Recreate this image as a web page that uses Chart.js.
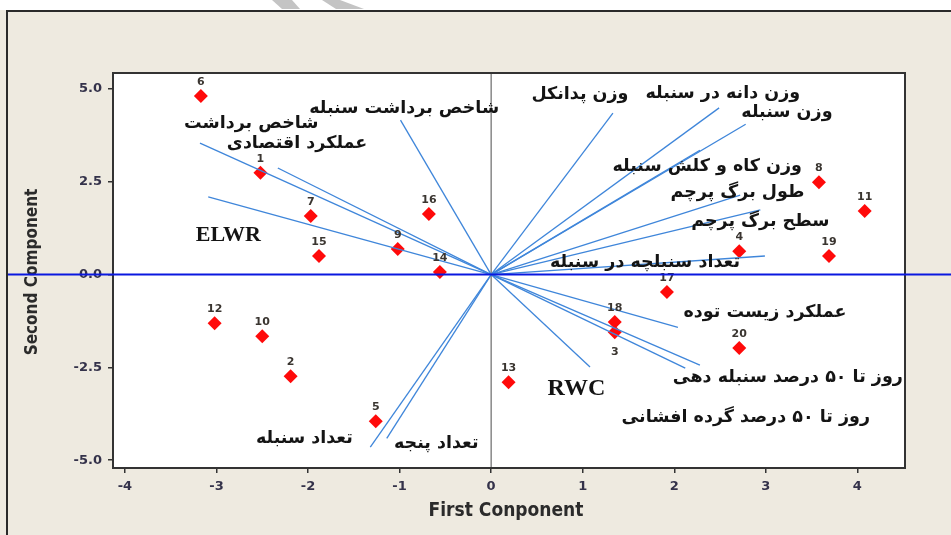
<!DOCTYPE html>
<html>
<head>
<meta charset="utf-8">
<script src="https://cdn.jsdelivr.net/npm/chart.js"></script>
<style>
  html, body { margin: 0; padding: 0; background: #eeeae0; }
  canvas { display: block; }
</style>
</head>
<body>
<canvas id="myChart" width="951" height="535"></canvas>
<script>
// genotype scores (first and second component)
const obsIds = ['6', '1', '7', '15', '9', '16', '14', '12', '10', '2', '5', '13', '18', '3', '17', '20', '4', '8', '11', '19'];
const obsX = [-3.17, -2.52, -1.97, -1.88, -1.02, -0.68, -0.56, -3.02, -2.50, -2.19, -1.26, 0.19, 1.35, 1.35, 1.92, 2.71, 2.71, 3.58, 4.08, 3.69];
const obsY = [4.81, 2.74, 1.58, 0.50, 0.69, 1.63, 0.07, -1.31, -1.66, -2.74, -3.95, -2.90, -1.28, -1.55, -0.47, -1.98, 0.63, 2.49, 1.71, 0.50];

// trait vectors (loadings)
const varNames = [
  'شاخص برداشت سنبله', 'شاخص برداشت', 'عملکرد اقتصادی', 'ELWR',
  'وزن پدانکل', 'وزن دانه در سنبله', 'وزن سنبله', 'وزن کاه و کلش سنبله',
  'طول برگ پرچم', 'سطح برگ پرچم', 'تعداد سنبلچه در سنبله',
  'عملکرد زیست توده', 'روز تا ۵۰ درصد سنبله دهی', 'روز تا ۵۰ درصد گرده افشانی', 'RWC',
  'تعداد سنبله', 'تعداد پنجه'
];
const varX = [-0.99, -3.18, -2.33, -3.09, 1.33, 2.49, 2.78, 2.28, 2.72, 2.94, 2.99, 2.04, 2.28, 2.12, 1.08, -1.32, -1.14];
const varY = [4.16, 3.54, 2.87, 2.09, 4.35, 4.49, 4.05, 3.35, 2.14, 1.74, 0.50, -1.42, -2.44, -2.52, -2.49, -4.65, -4.41];

const xTicks = [-4, -3, -2, -1, 0, 1, 2, 3, 4];
const yTicks = [-5, -2.5, 0, 2.5, 5];

// where the trait names sit (data units, text centre)
const nameAt = [
  [-0.95, 4.48], [-2.62, 4.08], [-2.12, 3.54], [-2.87, 1.06],
  [0.97, 4.84], [2.53, 4.89], [3.23, 4.38], [2.36, 2.90],
  [2.69, 2.22], [2.94, 1.42], [1.68, 0.34],
  [2.99, -1.01], [3.24, -2.76], [2.78, -3.84], [0.93, -3.08],
  [-2.04, -4.41], [-0.60, -4.54]
];

const datasets = varX.map(function(vx, i) {
  return {
    type: 'line',
    data: [{x: 0, y: 0}, {x: vx, y: varY[i]}],
    borderColor: '#3f86da',
    borderWidth: 1.3,
    pointRadius: 0,
    fill: false
  };
});
datasets.push({
  type: 'scatter',
  data: obsX.map(function(x, i) { return {x: x, y: obsY[i]}; }),
  pointStyle: 'rectRot',
  pointRadius: 7,
  backgroundColor: '#ff0a0a',
  borderWidth: 0
});

const decor = {
  id: 'decor',
  beforeDraw: function(chart) {
    const ctx = chart.ctx, a = chart.chartArea;
    ctx.save();
    ctx.fillStyle = '#eeeae0';
    ctx.fillRect(0, 0, chart.width, chart.height);
    ctx.fillStyle = '#ffffff';
    ctx.fillRect(0, 0, chart.width, 10);
    // faint watermark bits at the top
    ctx.fillStyle = '#c4c4c4';
    ctx.beginPath();
    ctx.moveTo(272, 0); ctx.lineTo(292, 0); ctx.lineTo(300, 9); ctx.lineTo(282, 9); ctx.closePath(); ctx.fill();
    ctx.beginPath();
    ctx.moveTo(322, 0); ctx.lineTo(340, 0); ctx.lineTo(364, 9); ctx.lineTo(336, 9); ctx.closePath(); ctx.fill();
    // frame
    ctx.strokeStyle = '#2a2a2a';
    ctx.lineWidth = 2;
    ctx.beginPath();
    ctx.moveTo(7, 535); ctx.lineTo(7, 11); ctx.lineTo(951, 11);
    ctx.stroke();
    ctx.fillStyle = '#ffffff';
    ctx.fillRect(a.left, a.top, a.right - a.left, a.bottom - a.top);
    ctx.restore();
  },
  beforeDatasetsDraw: function(chart) {
    const ctx = chart.ctx, a = chart.chartArea;
    const x0 = chart.scales.x.getPixelForValue(0);
    ctx.save();
    ctx.strokeStyle = '#6a6a6a';
    ctx.lineWidth = 1.2;
    ctx.beginPath();
    ctx.moveTo(x0, a.top); ctx.lineTo(x0, a.bottom);
    ctx.stroke();
    ctx.restore();
  },
  afterDatasetsDraw: function(chart) {
    const ctx = chart.ctx, a = chart.chartArea;
    const sx = chart.scales.x, sy = chart.scales.y;
    ctx.save();
    // plot border
    ctx.strokeStyle = '#333333';
    ctx.lineWidth = 2;
    ctx.strokeRect(a.left, a.top, a.right - a.left, a.bottom - a.top);

    // genotype numbers
    ctx.fillStyle = '#3a3530';
    ctx.font = 'bold 11px "DejaVu Sans"';
    ctx.textAlign = 'center';
    ctx.textBaseline = 'middle';
    obsIds.forEach(function(id, i) {
      const px = sx.getPixelForValue(obsX[i]);
      let py = sy.getPixelForValue(obsY[i]);
      py += (id === '3') ? 20 : -14;
      ctx.fillText(id, px, py);
    });

    // trait names
    ctx.fillStyle = '#141414';
    varNames.forEach(function(name, i) {
      const px = sx.getPixelForValue(nameAt[i][0]);
      const py = sy.getPixelForValue(nameAt[i][1]);
      if (name === 'ELWR') {
        ctx.font = 'bold 22px "Liberation Serif"';
      } else if (name === 'RWC') {
        ctx.font = 'bold 24px "Liberation Serif"';
      } else {
        ctx.font = 'bold 17.5px "DejaVu Sans"';
      }
      ctx.fillText(name, px, py);
    });

    // axis titles
    ctx.fillStyle = '#2b2b2b';
    ctx.font = 'bold 19px "DejaVu Sans Condensed"';
    ctx.fillText('First Conponent', 506, 511);
    ctx.font = 'bold 17px "DejaVu Sans Condensed"';
    ctx.translate(33, 272);
    ctx.rotate(-Math.PI / 2);
    ctx.fillText('Second Component', 0, 0);
    ctx.restore();

    // blue zero line across the whole figure
    const y0 = sy.getPixelForValue(0);
    ctx.save();
    ctx.strokeStyle = '#0a18e0';
    ctx.lineWidth = 2;
    ctx.beginPath();
    ctx.moveTo(8, y0); ctx.lineTo(951, y0);
    ctx.stroke();
    ctx.restore();
  }
};

const config = {
  type: 'scatter',
  data: { datasets: datasets },
  options: {
    responsive: false,
    animation: false,
    layout: { padding: { left: 0, top: 73, right: 46, bottom: 0 } },
    plugins: { legend: { display: false }, tooltip: { enabled: false } },
    scales: {
      x: {
        type: 'linear',
        min: -4.13,
        max: 4.52,
        afterBuildTicks: function(s) { s.ticks = xTicks.map(function(v) { return {value: v}; }); },
        afterFit: function(s) { s.height = 67; },
        border: { display: false },
        grid: { drawOnChartArea: false, drawTicks: true, tickLength: 5, color: '#333333', lineWidth: 1.5 },
        ticks: { color: '#34324a', font: { family: 'DejaVu Sans', size: 13, weight: 'bold' }, padding: 6,
                 callback: function(v) { return String(v); } }
      },
      y: {
        type: 'linear',
        min: -5.21,
        max: 5.43,
        afterBuildTicks: function(s) { s.ticks = yTicks.map(function(v) { return {value: v}; }); },
        afterFit: function(s) { s.width = 113; },
        border: { display: false },
        grid: { drawOnChartArea: false, drawTicks: true, tickLength: 5, color: '#333333', lineWidth: 1.5 },
        ticks: { color: '#34324a', font: { family: 'DejaVu Sans', size: 13, weight: 'bold' }, padding: 6,
                 callback: function(v) { return v.toFixed(1); } }
      }
    }
  },
  plugins: [decor]
};

const myChart = new Chart(document.getElementById('myChart'), config);
</script>
</body>
</html>
